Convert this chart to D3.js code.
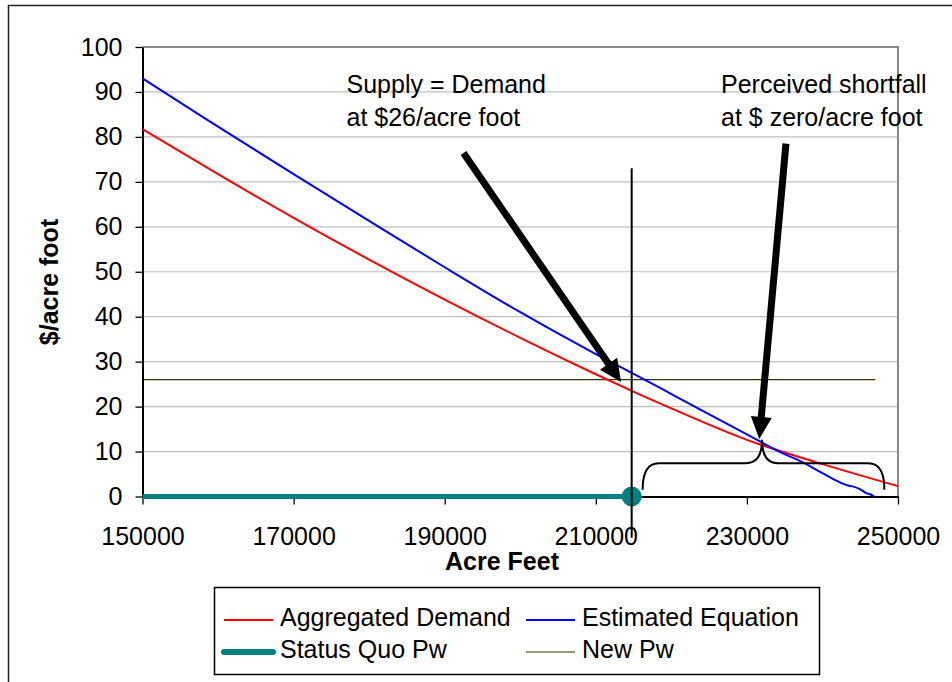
<!DOCTYPE html>
<html>
<head>
<meta charset="utf-8">
<script src="https://cdn.jsdelivr.net/npm/d3@7"></script>
<style>
  body { margin: 0; background: #fff; }
  text { font-family: "Liberation Sans", Arial, sans-serif; }
</style>
</head>
<body>
<div id="app"></div>
<script>
// ticks
const xTicks = [150000, 170000, 190000, 210000, 230000, 250000];
const yTicks = [0, 10, 20, 30, 40, 50, 60, 70, 80, 90, 100];

// Aggregated Demand (red)
const demandX = [150000, 160000, 170000, 180000, 190000, 200000, 210000, 214750, 220000, 230000, 240000, 250000];
const demandY = [81.7, 71.7, 62.0, 52.7, 43.8, 35.3, 27.2, 23.5, 19.6, 12.6, 7.2, 2.3];

// Estimated Equation (blue)
const estX = [150000, 158000, 170000, 180000, 190000, 200000, 210000, 214750, 220000, 230000, 235270, 236800, 240000, 242000, 242760, 243500, 244090, 245000, 245860, 246300, 246830];
const estY = [93.0, 84.4, 71.7, 61.3, 51.0, 41.0, 31.7, 27.5, 22.8, 13.8, 9.2, 8.1, 5.2, 3.4, 2.8, 2.4, 2.2, 1.6, 0.7, 0.5, 0.0];

// Status Quo Pw (teal) and New Pw (black)
const statusX = [150000, 214750];
const statusY = [0, 0];
const newPwHX = [150000, 247000];
const newPwHY = [26, 26];
const newPwVX = [214750, 214750];
const newPwVY = [73, -9.2];

// annotations: [x0, y0, x1, y1] in data units
const arrows = [
  [192490, 76.4, 213340, 25.5],
  [235170, 78.5, 231640, 12.8]
];
const braceSpan = [216200, 232000, 248200];   // left, tip, right
const braceLevels = [1.5, 7.4, 12.6];          // ends, bar, tip

const legendItems = [
  { name: 'Aggregated Demand', color: '#ff0000', width: 2 },
  { name: 'Estimated Equation', color: '#0000ff', width: 2 },
  { name: 'Status Quo Pw', color: '#008080', width: 6 },
  { name: 'New Pw', color: '#333300', width: 1.2 }
];

const width = 952, height = 682;
const plot = { left: 142.5, right: 898, top: 47, bottom: 496.5 };

const svg = d3.select('#app').append('svg')
  .attr('width', width)
  .attr('height', height);

// outer frame
svg.append('rect')
  .attr('x', 8.5).attr('y', 5.5)
  .attr('width', 1000).attr('height', 1000)
  .attr('fill', 'none').attr('stroke', '#222').attr('stroke-width', 1.5);

const x = d3.scaleLinear().domain([150000, 250000]).range([plot.left, plot.right]);
const y = d3.scaleLinear().domain([0, 100]).range([plot.bottom, plot.top]);

// grid
svg.append('g')
  .selectAll('line')
  .data(yTicks.filter(d => d > 0 && d < 100))
  .join('line')
  .attr('x1', plot.left).attr('x2', plot.right)
  .attr('y1', d => y(d)).attr('y2', d => y(d))
  .attr('stroke', '#c0c0c0').attr('stroke-width', 1.2);

// plot border top / right
svg.append('path')
  .attr('d', `M${plot.left},${y(100)}H${plot.right}V${plot.bottom}`)
  .attr('fill', 'none').attr('stroke', '#888').attr('stroke-width', 2);

const line = d3.line().x(d => x(d[0])).y(d => y(d[1]));
const smooth = d3.line().x(d => x(d[0])).y(d => y(d[1])).curve(d3.curveMonotoneX);

const zip = (a, b) => a.map((v, i) => [v, b[i]]);

// New Pw
svg.append('path').datum(zip(newPwHX, newPwHY))
  .attr('d', line).attr('stroke', '#333300').attr('stroke-width', 1.3).attr('fill', 'none');

// axes
const yAxis = d3.axisLeft(y).tickValues(yTicks).tickSize(7).tickSizeOuter(0).tickPadding(13);
const gy = svg.append('g')
  .attr('transform', `translate(${plot.left},0)`)
  .call(yAxis);
gy.selectAll('text').attr('font-size', 25).attr('fill', '#000').attr('font-family', 'Liberation Sans, Arial');
gy.selectAll('line').attr('stroke', '#000').attr('stroke-width', 1.3);
gy.select('.domain').attr('stroke', '#000').attr('stroke-width', 2);

const xAxis = d3.axisBottom(x).tickValues(xTicks).tickSize(8).tickSizeOuter(0).tickPadding(23).tickFormat(d3.format('d'));
const gx = svg.append('g')
  .attr('transform', `translate(0,${plot.bottom})`)
  .call(xAxis);
gx.selectAll('text').attr('font-size', 25).attr('fill', '#000').attr('font-family', 'Liberation Sans, Arial');
gx.selectAll('line').attr('stroke', '#000').attr('stroke-width', 1.3);
gx.select('.domain').attr('stroke', '#000').attr('stroke-width', 2);

// series
svg.append('path').datum(zip(demandX, demandY))
  .attr('d', smooth).attr('stroke', '#ff0000').attr('stroke-width', 2).attr('fill', 'none');
svg.append('path').datum(zip(estX, estY))
  .attr('d', smooth).attr('stroke', '#0000ff').attr('stroke-width', 2).attr('fill', 'none');

svg.append('path').datum(zip(statusX, statusY))
  .attr('d', line).attr('stroke', '#008080').attr('stroke-width', 5).attr('fill', 'none');
svg.append('circle')
  .attr('cx', x(statusX[1])).attr('cy', y(statusY[1])).attr('r', 10)
  .attr('fill', '#008080');

svg.append('path').datum(zip(newPwVX, newPwVY))
  .attr('d', line).attr('stroke', '#000').attr('stroke-width', 2).attr('fill', 'none');

// arrows
arrows.forEach(a => {
  const x0 = x(a[0]), y0 = y(a[1]), x1 = x(a[2]), y1 = y(a[3]);
  const len = Math.hypot(x1 - x0, y1 - y0);
  const ux = (x1 - x0) / len, uy = (y1 - y0) / len;
  const head = 22, half = 10.5;
  const bx = x1 - ux * head, by = y1 - uy * head;
  svg.append('line')
    .attr('x1', x0).attr('y1', y0).attr('x2', bx + ux * 2).attr('y2', by + uy * 2)
    .attr('stroke', '#000').attr('stroke-width', 7);
  svg.append('polygon')
    .attr('points', [[x1, y1], [bx - uy * half, by + ux * half], [bx + uy * half, by - ux * half]].map(p => p.join(',')).join(' '))
    .attr('fill', '#000');
});

// brace
{
  const xl = x(braceSpan[0]), xt = x(braceSpan[1]), xr = x(braceSpan[2]);
  const ye = y(braceLevels[0]), yb = y(braceLevels[1]), yt = y(braceLevels[2]);
  const r = 16;
  const d = `M${xl},${ye} Q${xl},${yb} ${xl + r},${yb} L${xt - r},${yb} Q${xt},${yb} ${xt},${yt}` +
            ` Q${xt},${yb} ${xt + r},${yb} L${xr - r},${yb} Q${xr},${yb} ${xr},${ye}`;
  svg.append('path').attr('d', d).attr('fill', 'none').attr('stroke', '#000').attr('stroke-width', 2);
}

// annotation texts
const note = (tx, ty, lines) => {
  const t = svg.append('text').attr('x', tx).attr('y', ty).attr('font-size', 25).attr('fill', '#000');
  lines.forEach((s, i) => t.append('tspan').attr('x', tx).attr('dy', i ? 33.5 : 0).text(s));
};
note(346.5, 92.5, ['Supply = Demand', 'at $26/acre foot']);
note(721, 92.5, ['Perceived shortfall', 'at $ zero/acre foot']);

// axis titles
svg.append('text')
  .attr('x', 502).attr('y', 570)
  .attr('text-anchor', 'middle').attr('font-size', 25).attr('font-weight', 'bold')
  .text('Acre Feet');
svg.append('text')
  .attr('transform', 'translate(58,282) rotate(-90)')
  .attr('text-anchor', 'middle').attr('font-size', 25).attr('font-weight', 'bold')
  .text('$/acre foot');

// legend
const lg = svg.append('g');
lg.append('rect')
  .attr('x', 214.5).attr('y', 587.5).attr('width', 605).attr('height', 87)
  .attr('fill', '#fff').attr('stroke', '#000').attr('stroke-width', 1.5);
const slots = [[224, 620], [526, 620], [224, 652], [526, 652]];
legendItems.forEach((it, i) => {
  const [lx, ly] = slots[i];
  lg.append('line')
    .attr('x1', lx).attr('x2', lx + 49).attr('y1', ly).attr('y2', ly)
    .attr('stroke', it.color).attr('stroke-width', it.width)
    .attr('stroke-linecap', it.width > 4 ? 'round' : 'butt');
  lg.append('text')
    .attr('x', lx + 56).attr('y', ly + 6).attr('font-size', 25).attr('fill', '#000')
    .text(it.name);
});
</script>
</body>
</html>
